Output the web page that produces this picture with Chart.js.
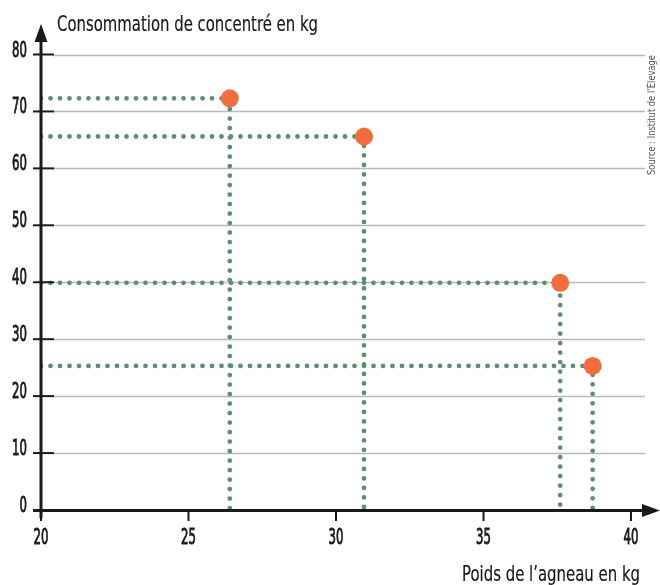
<!DOCTYPE html>
<html>
<head>
<meta charset="utf-8">
<script src="https://cdn.jsdelivr.net/npm/chart.js@4"></script>
<style>
  html, body { margin: 0; padding: 0; background: #fff; }
  #wrap { width: 660px; height: 585px; }
</style>
</head>
<body>
<div id="wrap"><canvas id="lambChart" width="660" height="585"></canvas></div>
<script>
// Poids de l'agneau (kg) / consommation de concentré (kg)
const lambWeights = [26.4, 30.95, 37.6, 38.7];
const concentrate = [72.3, 65.6, 39.9, 25.3];
const xTickValues = [20, 25, 30, 35, 40];
const yTickValues = [0, 10, 20, 30, 40, 50, 60, 70, 80];
const yTitle = "Consommation de concentré en kg";
const xTitle = "Poids de l\u2019agneau en kg";
const sourceText = "Source : Institut de l\u2019Elevage";

const FONT = "'DejaVu Sans Condensed', 'DejaVu Sans', sans-serif";
const DOT_COLOR = "#5f8e70";
const POINT_COLOR = "#f26d3d";

// the original uses a narrow, slightly heavy font: squeeze text horizontally,
// and give it a thin outline of the same colour when asked
function narrowText(ctx, text, x, y, squeeze, weight) {
  ctx.save();
  ctx.translate(x, y);
  ctx.scale(squeeze, 1);
  ctx.fillText(text, 0, 0);
  if (weight) {
    ctx.lineWidth = weight;
    ctx.strokeStyle = ctx.fillStyle;
    ctx.strokeText(text, 0, 0);
  }
  ctx.restore();
}

// one dataset per point for the dotted guides: from the y axis to the point, then down to 0
const guideSets = lambWeights.map((x, i) => ({
  type: "line",
  data: [
    { x: 20, y: concentrate[i] },
    { x, y: concentrate[i] },
    { x, y: 0 },
  ],
  borderColor: DOT_COLOR,
  borderWidth: 4.8,
  borderDash: [0, 9.5],
  borderCapStyle: "round",
  pointRadius: 0,
  fill: false,
  tension: 0,
  order: 2,
}));

const axesPlugin = {
  id: "axesPlugin",
  beforeDatasetsDraw(chart) {
    const { ctx, scales } = chart;
    const x = scales.x, y = scales.y;
    const x0 = x.getPixelForValue(20);
    ctx.save();
    ctx.strokeStyle = "#b9b9b9";
    ctx.lineWidth = 1.6;
    yTickValues.forEach((v) => {
      if (v === 0) return;
      const py = Math.round(y.getPixelForValue(v)) + 0.5;
      ctx.beginPath();
      ctx.moveTo(x0 + 12, py);
      ctx.lineTo(x.getPixelForValue(40) + 14, py);
      ctx.stroke();
    });
    ctx.restore();
  },
  afterDatasetsDraw(chart) {
    const { ctx, scales } = chart;
    const x = scales.x, y = scales.y;
    const x0 = x.getPixelForValue(20);
    const y0 = y.getPixelForValue(0);
    ctx.save();
    ctx.strokeStyle = "#1a1a1a";
    ctx.fillStyle = "#1a1a1a";
    ctx.lineWidth = 3;

    // y axis with arrow
    ctx.beginPath();
    ctx.moveTo(x0, y0 + 8);
    ctx.lineTo(x0, 36);
    ctx.stroke();
    ctx.beginPath();
    ctx.moveTo(x0, 24);
    ctx.lineTo(x0 - 6.5, 42);
    ctx.lineTo(x0 + 6.5, 42);
    ctx.closePath();
    ctx.fill();

    // x axis with arrow
    ctx.beginPath();
    ctx.moveTo(x0 - 8, y0 + 0.5);
    ctx.lineTo(648, y0 + 0.5);
    ctx.stroke();
    ctx.beginPath();
    ctx.moveTo(660, y0 + 0.5);
    ctx.lineTo(642, y0 - 6);
    ctx.lineTo(642, y0 + 7);
    ctx.closePath();
    ctx.fill();

    // y ticks and labels
    ctx.lineWidth = 2;
    ctx.font = "21px " + FONT;
    ctx.textAlign = "right";
    ctx.textBaseline = "alphabetic";
    yTickValues.forEach((v) => {
      const py = y.getPixelForValue(v);
      if (v !== 0) {
        ctx.beginPath();
        ctx.moveTo(x0 - 8, py);
        ctx.lineTo(x0 + 13, py);
        ctx.stroke();
      }
      narrowText(ctx, String(v), 27, py + 2, 0.62, 0.9);
    });

    // x ticks and labels
    ctx.textAlign = "center";
    xTickValues.forEach((v) => {
      const px = x.getPixelForValue(v);
      ctx.beginPath();
      ctx.moveTo(px, y0);
      ctx.lineTo(px, y0 + 11);
      ctx.stroke();
      narrowText(ctx, String(v), px, y0 + 34, 0.62, 0.9);
    });

    // titles, squeezed to the widths of the original
    ctx.font = "20.5px " + FONT;
    ctx.textAlign = "left";
    narrowText(ctx, yTitle, 57, 31, 261 / ctx.measureText(yTitle).width, 0.2);
    ctx.textAlign = "right";
    narrowText(ctx, xTitle, 640, 581, 178 / ctx.measureText(xTitle).width, 0.2);

    // source, vertical
    ctx.fillStyle = "#555";
    ctx.font = "11px " + FONT;
    ctx.translate(652, 115);
    ctx.rotate(-Math.PI / 2);
    ctx.textAlign = "center";
    ctx.textBaseline = "middle";
    narrowText(ctx, sourceText, 0, 0, 120 / ctx.measureText(sourceText).width);
    ctx.restore();
  },
};

const ctx = document.getElementById("lambChart").getContext("2d");
new Chart(ctx, {
  type: "scatter",
  data: {
    datasets: [
      {
        data: lambWeights.map((x, i) => ({ x, y: concentrate[i] })),
        backgroundColor: POINT_COLOR,
        borderWidth: 0,
        pointRadius: 9,
        pointHoverRadius: 9,
        order: 1,
      },
      ...guideSets,
    ],
  },
  options: {
    responsive: false,
    animation: false,
    events: [],
    layout: { padding: { left: 41, right: 29, top: 54.5, bottom: 75 } },
    plugins: { legend: { display: false }, tooltip: { enabled: false } },
    scales: {
      x: { type: "linear", min: 20, max: 40, display: false },
      y: { type: "linear", min: 0, max: 80, display: false },
    },
  },
  plugins: [axesPlugin],
});
</script>
</body>
</html>
